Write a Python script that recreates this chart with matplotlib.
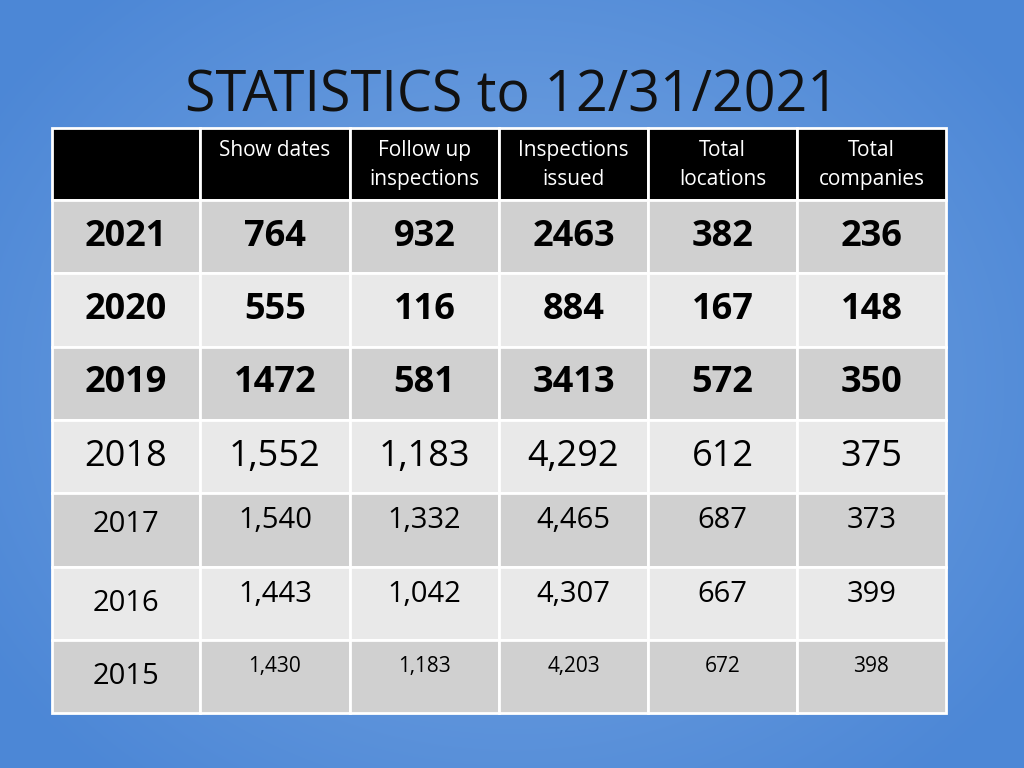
import matplotlib
matplotlib.use("Agg")
import matplotlib.pyplot as plt
import numpy as np

title = "STATISTICS to 12/31/2021"
headers = ["Show dates", "Follow up\ninspections", "Inspections\nissued", "Total\nlocations", "Total\ncompanies"]
years = ["2021", "2020", "2019", "2018", "2017", "2016", "2015"]
values = [
    ["764", "932", "2463", "382", "236"],
    ["555", "116", "884", "167", "148"],
    ["1472", "581", "3413", "572", "350"],
    ["1,552", "1,183", "4,292", "612", "375"],
    ["1,540", "1,332", "4,465", "687", "373"],
    ["1,443", "1,042", "4,307", "667", "399"],
    ["1,430", "1,183", "4,203", "672", "398"],
]
# per-row styling: (year size, value size, weight, value y offset)
row_style = [(26, 26, "bold", 0), (26, 26, "bold", 0), (26, 26, "bold", 0),
             (26, 26, "normal", 0), (21, 21, "normal", -9), (21, 21, "normal", -9),
             (21, 15, "normal", -10)]

FONT = "Open Sans"
fig = plt.figure(figsize=(10.24, 7.68), dpi=100)
ax = fig.add_axes([0, 0, 1, 1])
ax.set_xlim(0, 1024); ax.set_ylim(768, 0); ax.axis("off")

# background radial gradient
yy, xx = np.mgrid[0:768, 0:1024]
r = np.sqrt(((xx - 512) / 620) ** 2 + ((yy - 384) / 520) ** 2)
c0 = np.array([0.48, 0.66, 0.89]); c1 = np.array([0.30, 0.53, 0.84])
t = np.clip(r, 0, 1)[..., None]
img = c0 * (1 - t) + c1 * t
ax.imshow(img, extent=[0, 1024, 768, 0], zorder=0)

ax.text(512, 97, title, fontsize=40, color="#111111", ha="center", va="center", family=FONT)

col_x = [52, 200, 350, 499, 648, 797, 946]
top, hh, rh = 128, 72, 73.3
# header
for j in range(6):
    ax.add_patch(plt.Rectangle((col_x[j], top), col_x[j+1]-col_x[j], hh, fc="black", ec="white", lw=2, zorder=2))
for j, h in enumerate(headers):
    cx = (col_x[j+1] + col_x[j+2]) / 2
    ax.text(cx, 150 if "\n" not in h else 165, h, fontsize=15, color="white", ha="center", va="center",
            family=FONT, linespacing=1.45, zorder=3)

for i, (yr, vals) in enumerate(zip(years, values)):
    y0 = top + hh + i * rh
    fc = "#d0d0d0" if i % 2 == 0 else "#e9e9e9"
    for j in range(6):
        ax.add_patch(plt.Rectangle((col_x[j], y0), col_x[j+1]-col_x[j], rh, fc=fc, ec="white", lw=2, zorder=2))
    ys, vs, w, off = row_style[i]
    cy = y0 + rh / 2
    ax.text(126, cy - (5 if i == 4 else 0), yr, fontsize=ys, fontweight=w, ha="center", va="center",
            family=FONT, color="black", zorder=3)
    for j, v in enumerate(vals):
        cx = (col_x[j+1] + col_x[j+2]) / 2
        ax.text(cx, cy + off, v, fontsize=vs, fontweight=w, ha="center", va="center",
                family=FONT, color="black", zorder=3)

fig.savefig("out.png", dpi=100)
